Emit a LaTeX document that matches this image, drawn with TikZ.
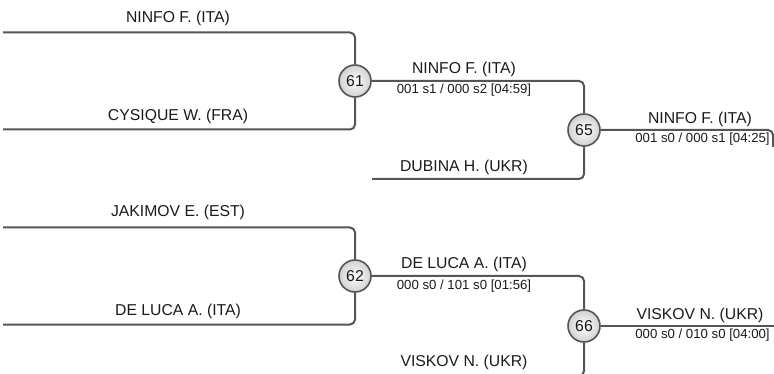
\documentclass[tikz,border=0pt]{standalone}
\usepackage{fontspec}
\setmainfont{Liberation Sans}
\definecolor{linegray}{HTML}{555555}
\definecolor{txt}{HTML}{1A1A1A}
\begin{document}
\begin{tikzpicture}[x=1pt,y=-1pt,
  conn/.style={draw=linegray, line width=2pt, rounded corners=5pt},
  match/.style={circle, draw=linegray, line width=1.6pt, inner color=white, outer color=black!18,
    minimum size=32pt, inner sep=0pt, text=txt, font=\fontsize{15.75}{18}\selectfont},
  pname/.style={anchor=base, inner sep=0pt, text=txt, font=\fontsize{15.75}{18}\selectfont},
  pscore/.style={anchor=base, inner sep=0pt, text=txt, font=\fontsize{13.2}{15}\selectfont}]
\useasboundingbox (0,0) rectangle (774,374);

% match circles
\node[match] (m61) at (355,81) {61};
\node[match] (m65) at (584,130) {65};
\node[match] (m62) at (355,276) {62};
\node[match] (m66) at (584,326) {66};

% free line ends
\coordinate (a1) at (3,32.5);
\coordinate (a2) at (3,129.5);
\coordinate (a3) at (372,179);
\coordinate (b1) at (3,227.5);
\coordinate (b2) at (3,324.5);
\coordinate (b3) at (372,376);
\coordinate (t65) at (773,147);
\coordinate (e66) at (776,326);

% connectors
\draw[conn] (a1) -| (m61.north);
\draw[conn] (a2) -| (m61.south);
\draw[conn] (m61.east) -| (m65.north);
\draw[conn] (a3) -| (m65.south);
\draw[conn] (m65.east) -| (t65);
\draw[conn] (b1) -| (m62.north);
\draw[conn] (b2) -| (m62.south);
\draw[conn] (m62.east) -| (m66.north);
\draw[conn] (b3) -| (m66.south);
\draw[conn] (m66.east) -- (e66);

% names, round 1
\node[pname] (n1) at (178,23) {NINFO F. (ITA)};
\node[pname] (n2) at (178,121) {CYSIQUE W. (FRA)};
\node[pname] (n3) at (178,217) {JAKIMOV E. (EST)};
\node[pname] (n4) at (178,315) {DE LUCA A. (ITA)};

% round 2
\node[pname] (w61) at (464,74) {NINFO F. (ITA)};
\node[pscore] (s61) at (464,94) {001 s1 / 000 s2 [04:59]};
\node[pname] (n5) at (464,171.5) {DUBINA H. (UKR)};
\node[pname] (w62) at (464,269) {DE LUCA A. (ITA)};
\node[pscore] (s62) at (464,289) {000 s0 / 101 s0 [01:56]};
\node[pname] (n6) at (464,366.5) {VISKOV N. (UKR)};

% round 3
\node[pname] (w65) at (700,124) {NINFO F. (ITA)};
\node[pscore] (s65) at (702.5,142.5) {001 s0 / 000 s1 [04:25]};
\node[pname] (w66) at (700,319) {VISKOV N. (UKR)};
\node[pscore] (s66) at (702.5,338) {000 s0 / 010 s0 [04:00]};
\end{tikzpicture}
\end{document}
